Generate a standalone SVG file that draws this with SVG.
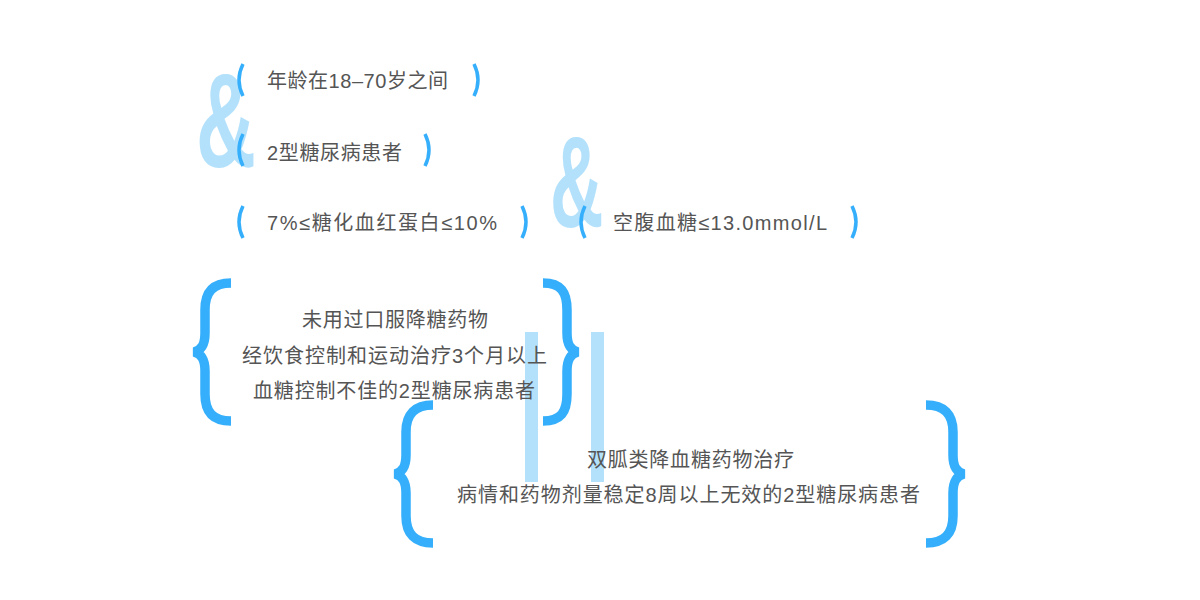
<svg xmlns="http://www.w3.org/2000/svg" width="1200" height="600" viewBox="0 0 1200 600">
<style>
.amp{font-family:"Liberation Sans",sans-serif;font-weight:bold;fill:#b3e1fc}
.bar{fill:#b3e1fc}
.par{fill:none;stroke:#35affb;stroke-width:3.5}
.brc{fill:none;stroke:#35affb;stroke-width:9.5;stroke-linejoin:miter}
.t{font-family:"Liberation Sans","Noto Sans CJK SC",sans-serif;font-size:20px;fill:#555}
</style>
<rect width="1200" height="600" fill="#fff"/>
<g id="connectors">
<text class="amp" font-size="134" transform="translate(196,167) scale(0.62,1)">&amp;</text>
<text class="amp" font-size="130" transform="translate(550,227) scale(0.57,1)">&amp;</text>
<rect class="bar" x="525" y="332" width="13" height="150"/>
<rect class="bar" x="591" y="332" width="13" height="150"/>
</g>
<g id="age">
<path class="par" d="M243,64 Q235,80 243,96"/>
<path class="par" d="M474,64 Q482,80 474,96"/>
<text class="t" x="267" y="88" textLength="181">年龄在18–70岁之间</text>
</g>
<g id="t2dm">
<path class="par" d="M243,134 Q235,150 243,166"/>
<path class="par" d="M425,134 Q433,150 425,166"/>
<text class="t" x="267" y="160" textLength="135">2型糖尿病患者</text>
</g>
<g id="hba1c">
<path class="par" d="M243,206 Q235,222 243,238"/>
<path class="par" d="M522,206 Q530,222 522,238"/>
<text class="t" x="267" y="230" textLength="230">7%≤糖化血红蛋白≤10%</text>
</g>
<g id="fpg">
<path class="par" d="M585,206 Q577,222 585,238"/>
<path class="par" d="M852,206 Q860,222 852,238"/>
<text class="t" x="613" y="230" textLength="214">空腹血糖≤13.0mmol/L</text>
</g>
<g id="naive">
<path class="brc" d="M231,283 C213,283 205,292 205,310 L205,333 C205,344 202,350 194,352 C202,354 205,360 205,371 L205,394 C205,412 213,421 231,421"/>
<path class="brc" d="M543,283 C561,283 567,292 567,310 L567,333 C567,344 570,350 578,352 C570,354 567,360 567,371 L567,394 C567,412 561,421 543,421"/>
<text class="t" x="302" y="327" textLength="186">未用过口服降糖药物</text>
<text class="t" x="242" y="363" textLength="305">经饮食控制和运动治疗3个月以上</text>
<text class="t" x="253" y="398" textLength="282">血糖控制不佳的2型糖尿病患者</text>
</g>
<g id="metformin">
<path class="brc" d="M433,405 C415,405 406,414 406,432 L406,455 C406,466 403,472 395,474 C403,476 406,482 406,493 L406,516 C406,534 415,543 433,543"/>
<path class="brc" d="M926,405 C944,405 953,414 953,432 L953,455 C953,466 956,472 964,474 C956,476 953,482 953,493 L953,516 C953,534 944,543 926,543"/>
<text class="t" x="587" y="467" textLength="207">双胍类降血糖药物治疗</text>
<text class="t" x="457" y="502" textLength="463">病情和药物剂量稳定8周以上无效的2型糖尿病患者</text>
</g>
</svg>
